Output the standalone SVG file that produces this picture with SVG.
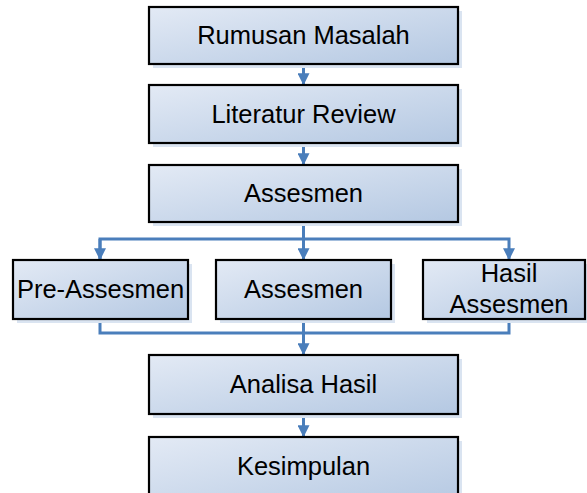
<svg xmlns="http://www.w3.org/2000/svg" width="587" height="493" viewBox="0 0 587 493">
<defs>
<linearGradient id="g" x1="0" y1="0" x2="1" y2="1">
<stop offset="0" stop-color="#e3eaf5"/>
<stop offset="1" stop-color="#b4c8e2"/>
</linearGradient>
<marker id="ah" viewBox="0 0 10 10" refX="9" refY="5" markerWidth="4" markerHeight="4" markerUnits="strokeWidth" orient="auto">
<path d="M0,0 L10,5 L0,10 Z" fill="#4a7ebb"/>
</marker>
</defs>
<style>
.sh{fill:#dae4f1;stroke:none}
.bx{fill:url(#g);stroke:#000;stroke-width:2.2}
.t{font-family:"Liberation Sans",Arial,sans-serif;font-size:25.5px;fill:#000;text-anchor:middle}
.c{fill:none;stroke:#4a7ebb;stroke-width:3}
</style>
<rect width="587" height="493" fill="#fff"/>
<g id="connectors">
<path class="c" d="M303.5,64 V84" marker-end="url(#ah)"/>
<path class="c" d="M303.5,143 V164" marker-end="url(#ah)"/>
<path class="c" d="M303.5,222 V259" marker-end="url(#ah)"/>
<path class="c" d="M100,259 V239 H509 V259" marker-end="url(#ah)"/>
<path class="c" d="M100,239 V259" marker-end="url(#ah)"/>
<path class="c" d="M100,319 V333 H509 V319"/>
<path class="c" d="M303.5,319 V354" marker-end="url(#ah)"/>
<path class="c" d="M303.5,414 V436" marker-end="url(#ah)"/>
</g>
<g id="n1">
<rect class="sh" x="153" y="11" width="309" height="57"/>
<rect class="bx" x="149" y="7" width="309" height="57"/>
<text class="t" x="303.5" y="44">Rumusan Masalah</text>
</g>
<g id="n2">
<rect class="sh" x="153" y="89" width="309" height="58"/>
<rect class="bx" x="149" y="85" width="309" height="58"/>
<text class="t" x="303.5" y="123">Literatur Review</text>
</g>
<g id="n3">
<rect class="sh" x="153" y="169" width="309" height="57"/>
<rect class="bx" x="149" y="165" width="309" height="57"/>
<text class="t" x="303.5" y="202">Assesmen</text>
</g>
<g id="n4">
<rect class="sh" x="17" y="264" width="175" height="59"/>
<rect class="bx" x="13" y="260" width="175" height="59"/>
<text class="t" x="100.5" y="298">Pre-Assesmen</text>
</g>
<g id="n5">
<rect class="sh" x="220" y="264" width="175" height="59"/>
<rect class="bx" x="216" y="260" width="175" height="59"/>
<text class="t" x="303.5" y="298">Assesmen</text>
</g>
<g id="n6">
<rect class="sh" x="427" y="264" width="162" height="59"/>
<rect class="bx" x="423" y="260" width="162" height="59"/>
<text class="t" x="509" y="282">Hasil</text>
<text class="t" x="509" y="313">Assesmen</text>
</g>
<g id="n7">
<rect class="sh" x="153" y="359" width="309" height="59"/>
<rect class="bx" x="149" y="355" width="309" height="59"/>
<text class="t" x="303.5" y="393">Analisa Hasil</text>
</g>
<g id="n8">
<rect class="sh" x="153" y="441" width="309" height="59"/>
<rect class="bx" x="149" y="437" width="309" height="70"/>
<text class="t" x="303.5" y="475">Kesimpulan</text>
</g>
</svg>
